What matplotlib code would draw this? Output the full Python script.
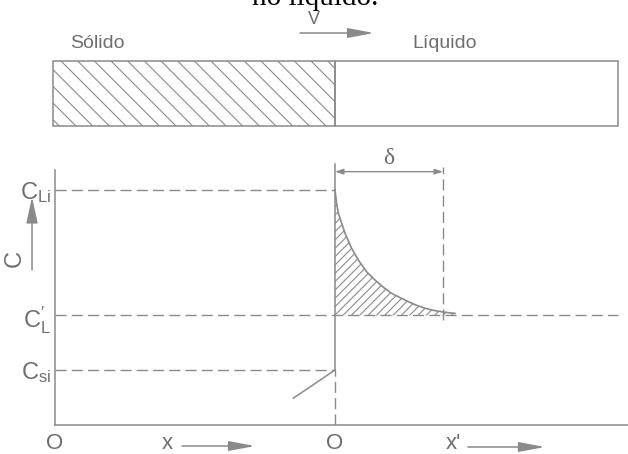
import matplotlib
matplotlib.use('Agg')
import matplotlib.pyplot as plt
from matplotlib.patches import Rectangle

# --------------------------------------------------------------------------
# Data (x in units of delta, interface at x = 0; C normalised to C_Li)
# --------------------------------------------------------------------------
C_Li = 1.0
C_L = 0.466
C_si = 0.234
delta = 1.0

# boundary layer profile
curve_x = [0.0, 0.015, 0.031, 0.093, 0.154, 0.216, 0.293, 0.370, 0.448,
           0.525, 0.602, 0.679, 0.756, 0.833, 0.910, 0.988, 1.049, 1.111]
curve_c = [1.0, 0.943, 0.901, 0.816, 0.752, 0.702, 0.652, 0.617, 0.586,
           0.560, 0.542, 0.525, 0.509, 0.497, 0.488, 0.482, 0.478, 0.475]

# solid side
solid_x = [-0.386, 0.0]
solid_c = [0.114, C_si]

ytick_vals = [C_si, C_L, C_Li]
ytick_labels = [r'$\mathregular{C_{si}}$', r"$\mathregular{C_L^{\prime}}$",
                r'$\mathregular{C_{Li}}$']
xtick_labels = ['O', 'O']

x_min, x_max = -2.5926, 2.7130
bar_left, bar_right = -2.611, 2.62
c_line_end = 2.62

# --------------------------------------------------------------------------
# Style
# --------------------------------------------------------------------------
plt.rcParams['font.family'] = ['Liberation Sans', 'DejaVu Sans']
plt.rcParams['hatch.linewidth'] = 0.8
line_col = '#8a8a8a'
text_col = '#6e6e6e'
dash = (0, (8, 3.7))

W, H = 628, 454
fig = plt.figure(figsize=(W / 100, H / 100), dpi=100)

# main C - x plot
ax = fig.add_axes([55 / W, (H - 425) / H, (W - 55) / W, 275 / H])
ax.set_xlim(x_min, x_max)
ax.set_ylim(0, 1.1702)
for s in ['top', 'right']:
    ax.spines[s].set_visible(False)
for s in ['left', 'bottom']:
    ax.spines[s].set_color(line_col)
    ax.spines[s].set_linewidth(1.1)
ax.spines['left'].set_bounds(0, 1.085)

ax.set_yticks(ytick_vals)
ax.set_yticklabels(ytick_labels)
ax.set_xticks([x_min, 0])
ax.set_xticklabels(xtick_labels)
ax.tick_params(axis='y', length=0, pad=3, labelsize=17, labelcolor=text_col)
ax.tick_params(axis='x', length=0, pad=6, labelsize=16, labelcolor=text_col)

# guide lines
ax.plot([x_min, 0], [C_Li, C_Li], color=line_col, lw=1, linestyle=dash)
ax.plot([x_min, 0], [C_si, C_si], color=line_col, lw=1, linestyle=dash)
ax.plot([x_min, c_line_end], [C_L, C_L], color=line_col, lw=1, linestyle=dash)
ax.plot([0, 0], [0, C_si], color=line_col, lw=1, linestyle=dash)
ax.plot([0, 0], [C_si, 1.11], color=line_col, lw=1.1)
ax.plot([delta, delta], [0.447, 1.098], color=line_col, lw=1, linestyle=dash)

# profile + hatched excess solute
ax.fill_between(curve_x, curve_c, C_L, facecolor='none', edgecolor=line_col,
                hatch='////', linewidth=0)
ax.plot(curve_x, curve_c, color=line_col, lw=1.2)
ax.plot(solid_x, solid_c, color=line_col, lw=1.1)

# delta dimension
ax.annotate('', xy=(delta, 1.078), xytext=(0, 1.078),
            arrowprops=dict(arrowstyle='<|-|>,head_length=0.6,head_width=0.2',
                            mutation_scale=8, color=line_col, lw=1,
                            shrinkA=0, shrinkB=0), annotation_clip=False)
ax.text(delta / 2, 1.136, 'δ', ha='center', va='center', fontsize=17,
        color=text_col, family='Liberation Serif', clip_on=False)

# C arrow on the left
ax.annotate('', xy=(-0.0401, 0.829), xytext=(-0.0401, 0.5636),
            xycoords='axes fraction', textcoords='axes fraction',
            arrowprops=dict(arrowstyle='-|>,head_length=1.6,head_width=0.35',
                            mutation_scale=10, color=line_col, lw=1.1,
                            shrinkA=0, shrinkB=0), annotation_clip=False)
ax.text(-0.0698, 0.607, 'C', rotation=90, ha='center', va='center',
        fontsize=17, color=text_col, transform=ax.transAxes)

# x, x' arrows
xt = ax.get_xaxis_transform()
ax.text(-1.556, -0.0655, 'x', ha='center', va='center', fontsize=16,
        color=text_col, transform=xt)
ax.annotate('', xy=(-0.741, -0.0764), xytext=(-1.417, -0.0764),
            xycoords=xt, textcoords=xt,
            arrowprops=dict(arrowstyle='-|>,head_length=1.6,head_width=0.3',
                            mutation_scale=10, color=line_col, lw=1.1,
                            shrinkA=0, shrinkB=0), annotation_clip=False)
ax.text(1.093, -0.0655, "x'", ha='center', va='center', fontsize=16,
        color=text_col, transform=xt)
ax.annotate('', xy=(1.944, -0.08), xytext=(1.231, -0.08),
            xycoords=xt, textcoords=xt,
            arrowprops=dict(arrowstyle='-|>,head_length=1.6,head_width=0.3',
                            mutation_scale=10, color=line_col, lw=1.1,
                            shrinkA=0, shrinkB=0), annotation_clip=False)

# --------------------------------------------------------------------------
# Top: solid / liquid bar (same x units, y in pixel rows)
# --------------------------------------------------------------------------
top = fig.add_axes([0, (H - 150) / H, 1, 150 / H])
top.set_xlim(-3.1019, x_max)
top.set_ylim(150, 0)
top.axis('off')

top.add_patch(Rectangle((bar_left, 61), -bar_left, 65, facecolor='none',
                        edgecolor=line_col, hatch='\\\\', lw=1.1))
top.add_patch(Rectangle((0, 61), bar_right, 65, facecolor='none',
                        edgecolor=line_col, lw=1.1))

top.text(-2.454, 43, 'Sólido', ha='left', va='center', fontsize=14,
         color=text_col)
top.text(0.713, 43, 'Líquido', ha='left', va='center', fontsize=14,
         color=text_col)
top.text(-0.194, 19, 'V', ha='center', va='center', fontsize=13,
         color=text_col)
top.annotate('', xy=(0.361, 33), xytext=(-0.324, 33),
             arrowprops=dict(arrowstyle='-|>,head_length=1.6,head_width=0.3',
                             mutation_scale=10, color=line_col, lw=1.1,
                             shrinkA=0, shrinkB=0))

# caption cut off by the crop
top.text(-0.185, 5, 'no líquido.', ha='center', va='baseline', fontsize=21,
         color='black', family='Liberation Serif', clip_on=False)

fig.savefig('out.png', dpi=100)
